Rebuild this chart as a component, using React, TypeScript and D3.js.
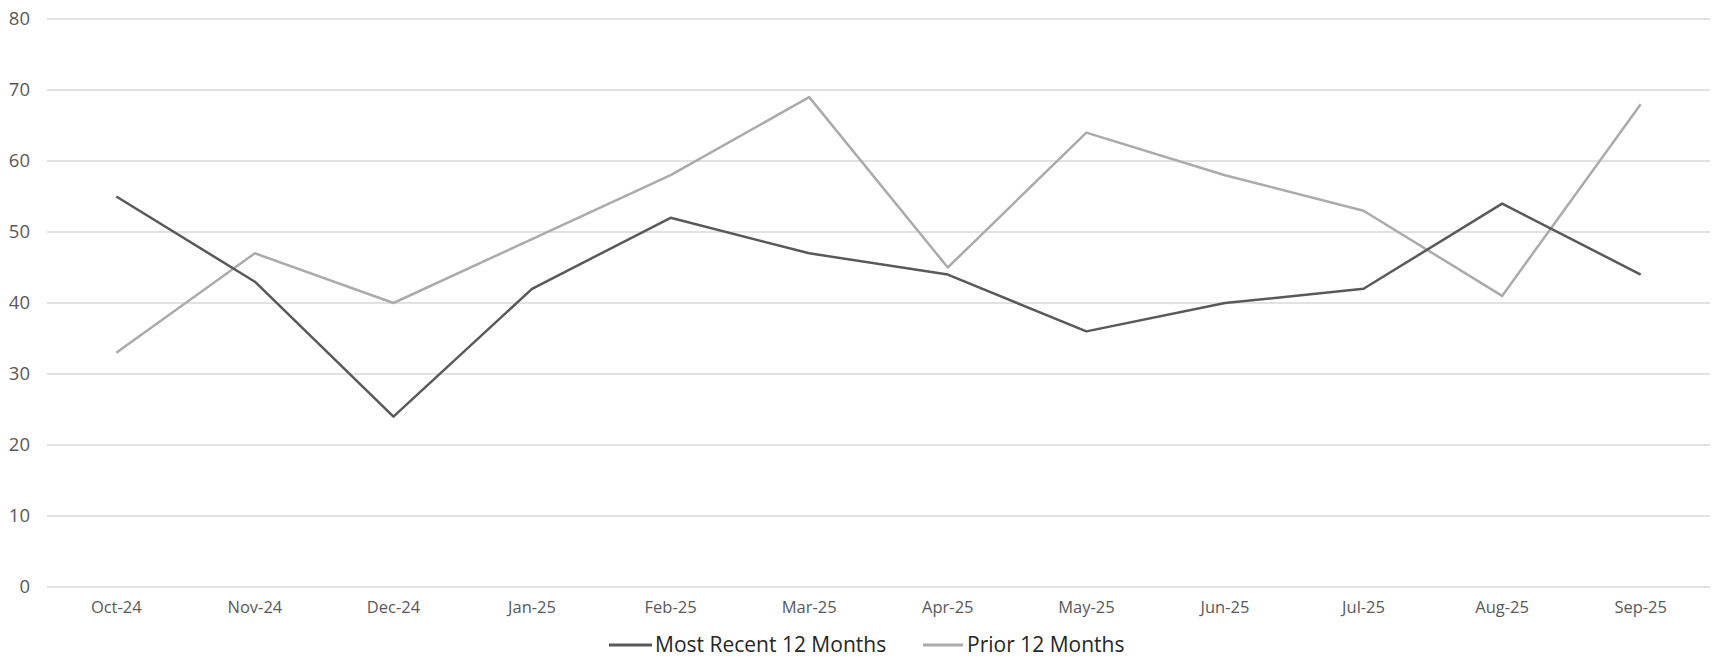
import React from "react";
import * as d3 from "d3";

const categories = ["Oct-24","Nov-24","Dec-24","Jan-25","Feb-25","Mar-25","Apr-25","May-25","Jun-25","Jul-25","Aug-25","Sep-25"];
const mostRecent = [55,43,24,42,52,47,44,36,40,42,54,44];
const prior = [33,47,40,49,58,69,45,64,58,53,41,68];
const yTicks = [0,10,20,30,40,50,60,70,80];
const seriesNames = ["Most Recent 12 Months","Prior 12 Months"];
const seriesColors = ["#595959","#ababab"];

const W = 1719, H = 670;
const FONT = "'Open Sans', 'DejaVu Sans', sans-serif";

export default function App() {
  const x = d3.scaleBand<string>().domain(categories).range([47, 1710]);
  const y = d3.scaleLinear().domain([0, 80]).range([587, 19]);
  const line = d3.line<number>()
    .x((_, i) => (x(categories[i]) as number) + x.bandwidth() / 2)
    .y(d => y(d));
  const series = [prior, mostRecent];
  const colorsDraw = [seriesColors[1], seriesColors[0]];
  return (
    <svg width={W} height={H} style={{ position: "absolute", left: 0, top: 0, background: "#fff" }}>
      {yTicks.map(t => (
        <g key={t}>
          <line x1={47} x2={1710} y1={y(t)} y2={y(t)} stroke="#d9d9d9" strokeWidth={1.5} />
          <text x={30} y={y(t)} dy="0.35em" textAnchor="end" fontFamily={FONT} fontSize={18.5} fill="#595959">{t}</text>
        </g>
      ))}
      {categories.map(c => (
        <text key={c} x={(x(c) as number) + x.bandwidth() / 2} y={613} textAnchor="middle" fontFamily={FONT} fontSize={16.5} fill="#595959">{c}</text>
      ))}
      {series.map((s, i) => (
        <path key={i} d={line(s) || ""} fill="none" stroke={colorsDraw[i]} strokeWidth={2.5} strokeLinejoin="round" />
      ))}
      <g>
        <line x1={609} x2={652} y1={645} y2={645} stroke={seriesColors[0]} strokeWidth={3} />
        <text x={655} y={652} fontFamily={FONT} fontSize={21} fill="#262626">{seriesNames[0]}</text>
        <line x1={923} x2={963} y1={645} y2={645} stroke={seriesColors[1]} strokeWidth={3} />
        <text x={967} y={652} fontFamily={FONT} fontSize={21} fill="#262626">{seriesNames[1]}</text>
      </g>
    </svg>
  );
}
